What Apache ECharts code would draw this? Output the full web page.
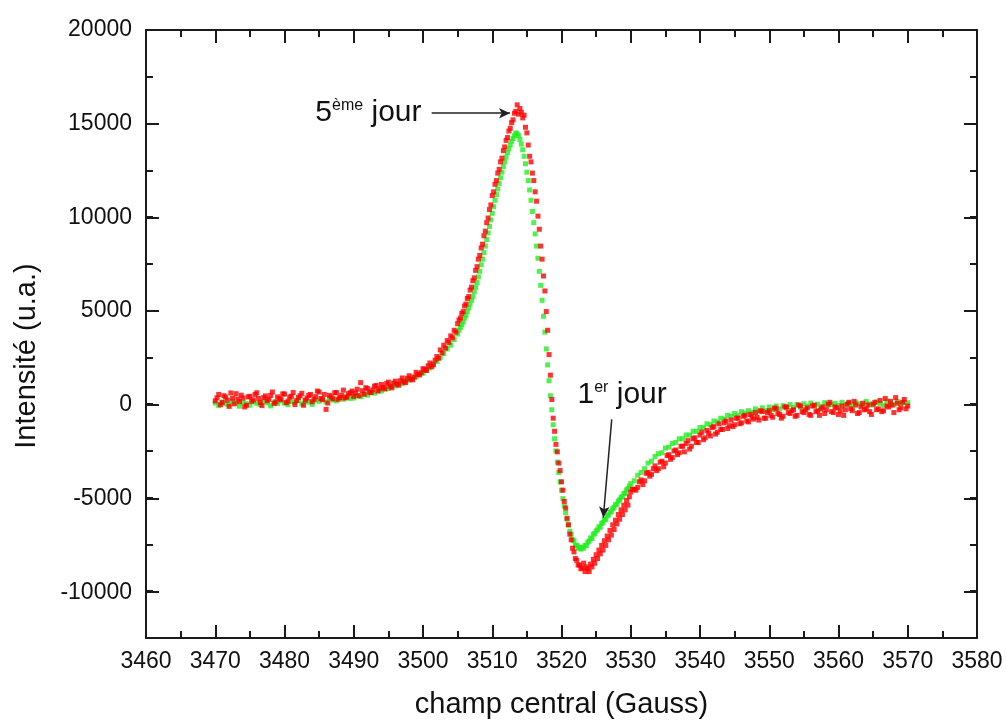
<!DOCTYPE html>
<html><head><meta charset="utf-8">
<script src="https://cdn.jsdelivr.net/npm/echarts@6/dist/echarts.min.js"></script>
<style>html,body{margin:0;padding:0;background:#fff}#c{width:1006px;height:724px}</style>
</head><body><div id="c"></div>
<script>
// sampling grids (Gauss)
const lowStart = 3470, lowStep = 0.5;
const low2Start = 3470.25;
const midStart = 3505, midStep = 0.2;
const highStart = 3530, highStep = 0.5;
const high2Start = 3530.25;

// 5ème jour (red)
const redLow = [180,520,90,380,-120,310,560,140,330,-60,
 420,230,610,90,350,180,470,30,390,250,
 540,160,420,-20,360,580,210,470,130,400,
 650,240,-280,470,290,620,350,750,380,610,
 420,800,1150,540,830,620,960,700,1050,820,
 1180,870,1230,1010,1400,1150,1520,1300,1700,1560,
 1900,1800,2200,2100,2550,2900,3150,3400,3650,3950];
const redLow2 = [340,-30,450,210,600,20,270,480,-150,390,
 150,520,310,-80,440,260,650,120,300,550,
 80,380,620,190,450,-60,330,520,260,700,
 300,520,60,380,610,260,480,330,560,700,
 600,450,720,880,650,760,1000,820,900,1100,
 950,1120,1060,1250,1180,1380,1330,1450,1600,1680,
 1850,2050,2000,2350,2450,2750,3000,3300,3550,3850];
const redMid = [4300,4500,4600,4850,4950,5250,5350,5650,5750,6100,
 6250,6600,6750,7150,7350,7750,7950,8350,8550,9000,
 9250,9700,9950,10400,10650,11150,11350,11750,11950,12350,
 12550,12950,13150,13550,13750,14100,14250,14600,14750,15050,
 15200,15550,15650,16000,15500,15800,15600,15300,15450,14800,
 14500,13850,13250,12950,12350,11950,11350,10850,10050,9350,
 8450,7750,6850,6050,4950,3950,2650,1550,250,-750,
 -1450,-2150,-2550,-3150,-3550,-4150,-4600,-5200,-5550,-6100,
 -6450,-6950,-7250,-7700,-7900,-8250,-8350,-8600,-8600,-8800,
 -8750,-8500,-8950,-8700,-8800,-8950,-8550,-8700,-8300,-8500,
 -8050,-8250,-7800,-8000,-7550,-7800,-7300,-7550,-7050,-7250,
 -6750,-7000,-6450,-6700,-6200,-6400,-5900,-6150,-5650,-5900,
 -5400,-5650,-5150,-5400,-4950];
const redHigh = [-4700,-4550,-4450,-4050,-4100,-3650,-3750,-3300,-3450,-3050,
 -3150,-2700,-2850,-2450,-2600,-2250,-2100,-2400,-1850,-2050,
 -1650,-1900,-1400,-1700,-1200,-1500,-1350,-1000,-1300,-850,
 -1100,-750,-1000,-600,-950,-700,-450,-850,-400,-750,
 -350,-700,-250,-550,-650,-150,-500,-300,-600,-100,
 -450,-200,-600,-50,-350,-250,-500,0,-400,-150,
 -550,-100,-300,100,-350,-50,-450,50,-250,-400,
 0,-300,200,-350,-100,150,-450,50,-200,250,
 -100];
const redHigh2 = [-4550,-4600,-4150,-4300,-3700,-3850,-3450,-3550,-3100,-3350,
 -2750,-2950,-2500,-2700,-2250,-2550,-1950,-2250,-1800,-2050,
 -1500,-1800,-1550,-1250,-1600,-1050,-1350,-900,-1150,-1200,
 -750,-1050,-650,-900,-550,-800,-700,-350,-750,-450,
 -600,-200,-500,-750,-150,-450,-350,-650,-50,-400,
 -300,-550,-100,-400,-600,-150,-300,100,-450,-200,
 -350,-600,0,-250,150,-500,-150,-300,-50,-550,
 100,-250,-400,300,-150,-50,350,-300,100,-250];

// 1er jour (green)
const greenLow = [60,-80,120,10,-40,150,40,-110,90,20,
 -60,130,50,-20,160,70,-90,110,30,180,
 60,-30,140,90,200,10,170,110,-10,210,
 150,260,120,310,220,180,340,260,390,310,
 330,450,400,520,480,610,590,720,700,810,
 830,960,970,1110,1100,1260,1280,1420,1450,1610,
 1650,1830,1930,2150,2280,2500,2700,2950,3150,3450];
const greenMid = [3750,3950,4100,4250,4400,4600,4750,4950,5150,5350,
 5550,5750,6000,6250,6500,6800,7100,7450,7750,8100,
 8450,8800,9150,9500,9850,10200,10550,10900,11200,11500,
 11800,12100,12400,12700,12950,13200,13450,13650,13850,14050,
 14200,14350,14500,14450,14350,14150,13900,13600,13250,12850,
 12400,11950,11450,10900,10300,9700,9100,8450,7800,7100,
 6350,5550,4700,3850,2950,2100,1250,450,-300,-1100,
 -1850,-2500,-3100,-3650,-4150,-4600,-5050,-5450,-5800,-6150,
 -6450,-6800,-6950,-7250,-7300,-7550,-7550,-7700,-7650,-7750,
 -7650,-7700,-7550,-7550,-7380,-7320,-7150,-7180,-6950,-6920,
 -6780,-6720,-6550,-6580,-6380,-6320,-6150,-6180,-5970,-5920,
 -5780,-5750,-5580,-5520,-5380,-5350,-5180,-5120,-4980,-4950,
 -4780,-4750,-4580,-4520,-4380];
const greenHigh = [-4250,-4100,-3800,-3650,-3450,-3150,-3050,-2800,-2650,-2600,
 -2350,-2300,-2100,-2050,-1850,-1850,-1650,-1650,-1450,-1450,
 -1250,-1250,-1050,-1100,-900,-950,-750,-800,-600,-650,
 -500,-600,-400,-500,-350,-450,-250,-380,-200,-350,
 -150,-300,-100,-250,-80,-200,-20,-180,-10,-150,
 20,-120,60,-100,0,-150,80,-60,-20,40,
 -80,100,-40,60,-120,80,20,-60,140,0,
 -50,120,40,-80,160,60,-40,150,20,100,
 80];

// annotations (data coordinates)
const label5 = {text: ['5', 'ème', 'jour'], at: [3499.86, 15588]};
const arrow5 = [[3501.25, 15551], [3512.56, 15551]];
const label1 = {text: ['1', 'er', 'jour'], at: [3522.24, 518]};
const arrow1 = [[3527.25, -816], [3526.04, -6062]];

function pairs(start, step, vals) {
  return vals.map((v, i) => [Math.round((start + i * step) * 100) / 100, v]);
}
const redData = pairs(lowStart, lowStep, redLow).concat(
  pairs(low2Start, lowStep, redLow2),
  pairs(midStart, midStep, redMid),
  pairs(highStart, highStep, redHigh),
  pairs(high2Start, highStep, redHigh2));
const greenData = pairs(lowStart, lowStep, greenLow).concat(
  pairs(midStart, midStep, greenMid),
  pairs(highStart, highStep, greenHigh));

const FONT = 'Liberation Sans, Arial, sans-serif';
const INK = '#1a1a1a';
const lineS = {color: INK, width: 2};
const plain = v => String(v);

function xAx(grid, pos, showLabel, show) {
  return {
    type: 'value', gridIndex: grid, position: pos, min: 3460, max: 3580, interval: 10, show: show,
    axisLine: {show: true, onZero: false, lineStyle: lineS},
    axisTick: {show: true, inside: true, length: 13, lineStyle: lineS},
    minorTick: {show: true, splitNumber: 2, length: 7, lineStyle: lineS},
    splitLine: {show: false}, minorSplitLine: {show: false},
    axisLabel: {show: showLabel, fontFamily: FONT, fontSize: 23, color: '#111', margin: 12, formatter: plain},
    name: showLabel ? 'champ central (Gauss)' : '', nameLocation: 'middle', nameGap: 52,
    nameTextStyle: {fontFamily: FONT, fontSize: 29, color: '#111'}
  };
}

const option = {
  animation: false,
  backgroundColor: '#fff',
  grid: [
    {left: 146, right: 29, top: 30, bottom: 85.3},
    {left: 146, right: 29, top: 30, bottom: 131.8}
  ],
  xAxis: [
    xAx(0, 'bottom', true, true),
    xAx(0, 'top', false, true),
    xAx(1, 'bottom', false, false)
  ],
  yAxis: [
    {type: 'value', gridIndex: 0, position: 'left', min: -12500, max: 20000, interval: 2500,
     axisLine: {show: true, onZero: false, lineStyle: lineS},
     axisTick: {show: true, inside: true, length: 7, lineStyle: lineS},
     axisLabel: {show: false}, splitLine: {show: false}},
    {type: 'value', gridIndex: 0, position: 'right', min: -12500, max: 20000, interval: 2500,
     axisLine: {show: true, onZero: false, lineStyle: lineS},
     axisTick: {show: true, inside: true, length: 7, lineStyle: lineS},
     axisLabel: {show: false}, splitLine: {show: false}},
    {type: 'value', gridIndex: 1, position: 'left', min: -10000, max: 20000, interval: 5000,
     axisLine: {show: false},
     axisTick: {show: true, inside: true, length: 13, lineStyle: lineS},
     axisLabel: {show: true, fontFamily: FONT, fontSize: 23, color: '#111', margin: 14, formatter: plain},
     splitLine: {show: false}},
    {type: 'value', gridIndex: 1, position: 'right', min: -10000, max: 20000, interval: 5000,
     axisLine: {show: false},
     axisTick: {show: true, inside: true, length: 13, lineStyle: lineS},
     axisLabel: {show: false}, splitLine: {show: false}}
  ],
  graphic: [{
    type: 'text', x: 27, y: 356, rotation: Math.PI / 2,
    style: {text: 'Intensité (u.a.)', fontFamily: FONT, fontSize: 29, fill: '#111',
            textAlign: 'center', textVerticalAlign: 'middle'}
  }],
  series: [
    {type: 'scatter', name: '1er jour', xAxisIndex: 0, yAxisIndex: 0, data: greenData,
     symbol: 'rect', symbolSize: 5, itemStyle: {color: '#22ee22'}, silent: true},
    {type: 'scatter', name: '5ème jour', xAxisIndex: 0, yAxisIndex: 0, data: redData,
     symbol: 'rect', symbolSize: 5, itemStyle: {color: '#ff0000'}, silent: true, z: 3,
     markLine: {silent: true, animation: false, symbol: ['none', 'arrow'], symbolSize: [8, 11],
       lineStyle: {color: '#222', width: 1.5, type: 'solid'}, label: {show: false},
       data: [
         [{coord: arrow5[0]}, {coord: arrow5[1]}],
         [{coord: arrow1[0]}, {coord: arrow1[1]}]
       ]},
     markPoint: {silent: true, animation: false, symbol: 'circle', symbolSize: 1,
       itemStyle: {color: 'rgba(0,0,0,0)'},
       label: {show: true, color: '#111',
         rich: {a: {fontFamily: FONT, fontSize: 30, color: '#111'},
                s: {fontFamily: FONT, fontSize: 16, color: '#111', verticalAlign: 'top'}}},
       data: [
         {coord: label5.at, label: {position: 'left', distance: 0,
           formatter: '{a|' + label5.text[0] + '}{s|' + label5.text[1] + '}{a| ' + label5.text[2] + '}'}},
         {coord: label1.at, label: {position: 'right', distance: 0,
           formatter: '{a|' + label1.text[0] + '}{s|' + label1.text[1] + '}{a| ' + label1.text[2] + '}'}}
       ]}
    }
  ]
};
const chart = echarts.init(document.getElementById('c'), null, {renderer: 'canvas'});
chart.setOption(option);
</script></body></html>
